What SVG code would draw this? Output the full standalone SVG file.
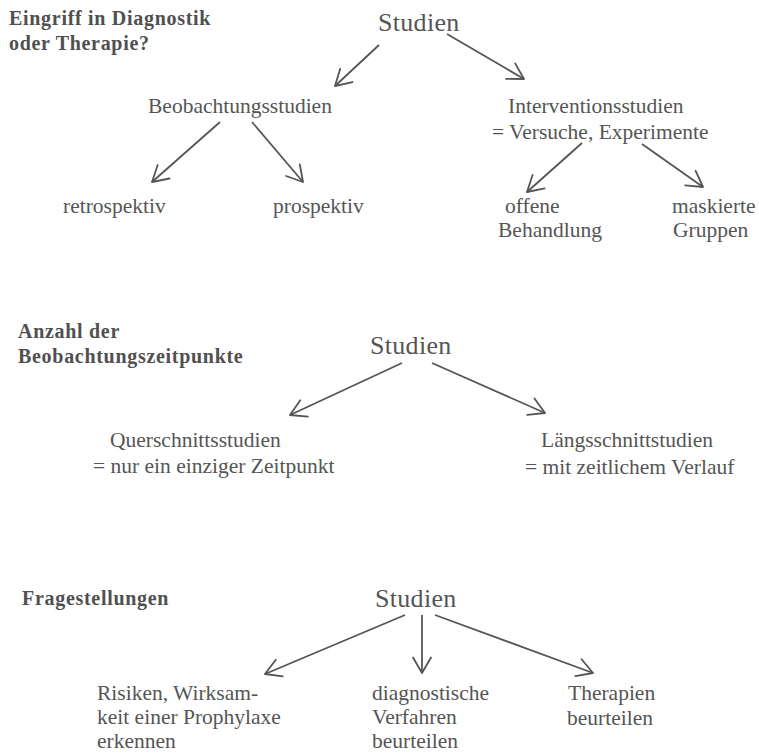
<svg xmlns="http://www.w3.org/2000/svg" width="759" height="753" viewBox="0 0 759 753">
<style>
text{font-family:"Liberation Serif","Times New Roman",serif;fill:#555;}
.h{font-weight:bold;font-size:20px;letter-spacing:0.7px;fill:#505050;}
.t{font-size:21.5px;}
.s{font-size:26px;letter-spacing:0.3px;}
.c line{stroke:#555;stroke-width:1.8;marker-end:url(#ah);}
</style>
<defs>
<marker id="ah" markerUnits="userSpaceOnUse" viewBox="0 0 18 20" markerWidth="18" markerHeight="20" refX="16.5" refY="10" orient="auto" overflow="visible">
<path d="M1,1 L16.5,10 L1,19" fill="none" stroke="#555" stroke-width="1.8" stroke-linecap="round" stroke-linejoin="round"/>
</marker>
</defs>
<rect width="759" height="753" fill="#fff"/>

<g id="heading1"><text class="h" x="9" y="25">Eingriff in Diagnostik</text><text class="h" x="9" y="50">oder Therapie?</text></g>
<g id="studien1"><text class="s" x="378" y="31">Studien</text></g>
<g id="beobachtung"><text class="t" x="148" y="113">Beobachtungsstudien</text></g>
<g id="intervention"><text class="t" x="508" y="113">Interventionsstudien</text><text class="t" x="492" y="139">= Versuche, Experimente</text></g>
<g id="retro"><text class="t" x="63" y="213">retrospektiv</text></g>
<g id="pro"><text class="t" x="273" y="213">prospektiv</text></g>
<g id="offen"><text class="t" x="505" y="213">offene</text><text class="t" x="498" y="237">Behandlung</text></g>
<g id="maskiert"><text class="t" x="672" y="213">maskierte</text><text class="t" x="673" y="237">Gruppen</text></g>

<g id="heading2"><text class="h" x="18" y="338">Anzahl der</text><text class="h" x="18" y="363">Beobachtungszeitpunkte</text></g>
<g id="studien2"><text class="s" x="370" y="354">Studien</text></g>
<g id="quer"><text class="t" x="110" y="447">Querschnittsstudien</text><text class="t" x="93" y="473">= nur ein einziger Zeitpunkt</text></g>
<g id="laengs"><text class="t" x="541" y="447">Längsschnittstudien</text><text class="t" x="525" y="474">= mit zeitlichem Verlauf</text></g>

<g id="heading3"><text class="h" x="22" y="605">Fragestellungen</text></g>
<g id="studien3"><text class="s" x="375" y="607">Studien</text></g>
<g id="risiken"><text class="t" x="97" y="700">Risiken, Wirksam-</text><text class="t" x="97" y="724">keit einer Prophylaxe</text><text class="t" x="97" y="748">erkennen</text></g>
<g id="diagnostisch"><text class="t" x="372" y="700">diagnostische</text><text class="t" x="372" y="724">Verfahren</text><text class="t" x="372" y="748">beurteilen</text></g>
<g id="therapien"><text class="t" x="568" y="700">Therapien</text><text class="t" x="567" y="725">beurteilen</text></g>

<g id="connectors" class="c">
<line x1="379" y1="45" x2="335" y2="86"/>
<line x1="447" y1="34" x2="524" y2="79"/>
<line x1="220" y1="122" x2="152" y2="182"/>
<line x1="252" y1="122" x2="303" y2="182"/>
<line x1="582" y1="143" x2="527" y2="192"/>
<line x1="642" y1="144" x2="703" y2="187"/>
<line x1="402" y1="363" x2="290" y2="415"/>
<line x1="432" y1="363" x2="545" y2="413"/>
<line x1="405" y1="615" x2="265" y2="674"/>
<line x1="422" y1="615" x2="422" y2="673"/>
<line x1="435" y1="615" x2="593" y2="673"/>
</g>
</svg>
